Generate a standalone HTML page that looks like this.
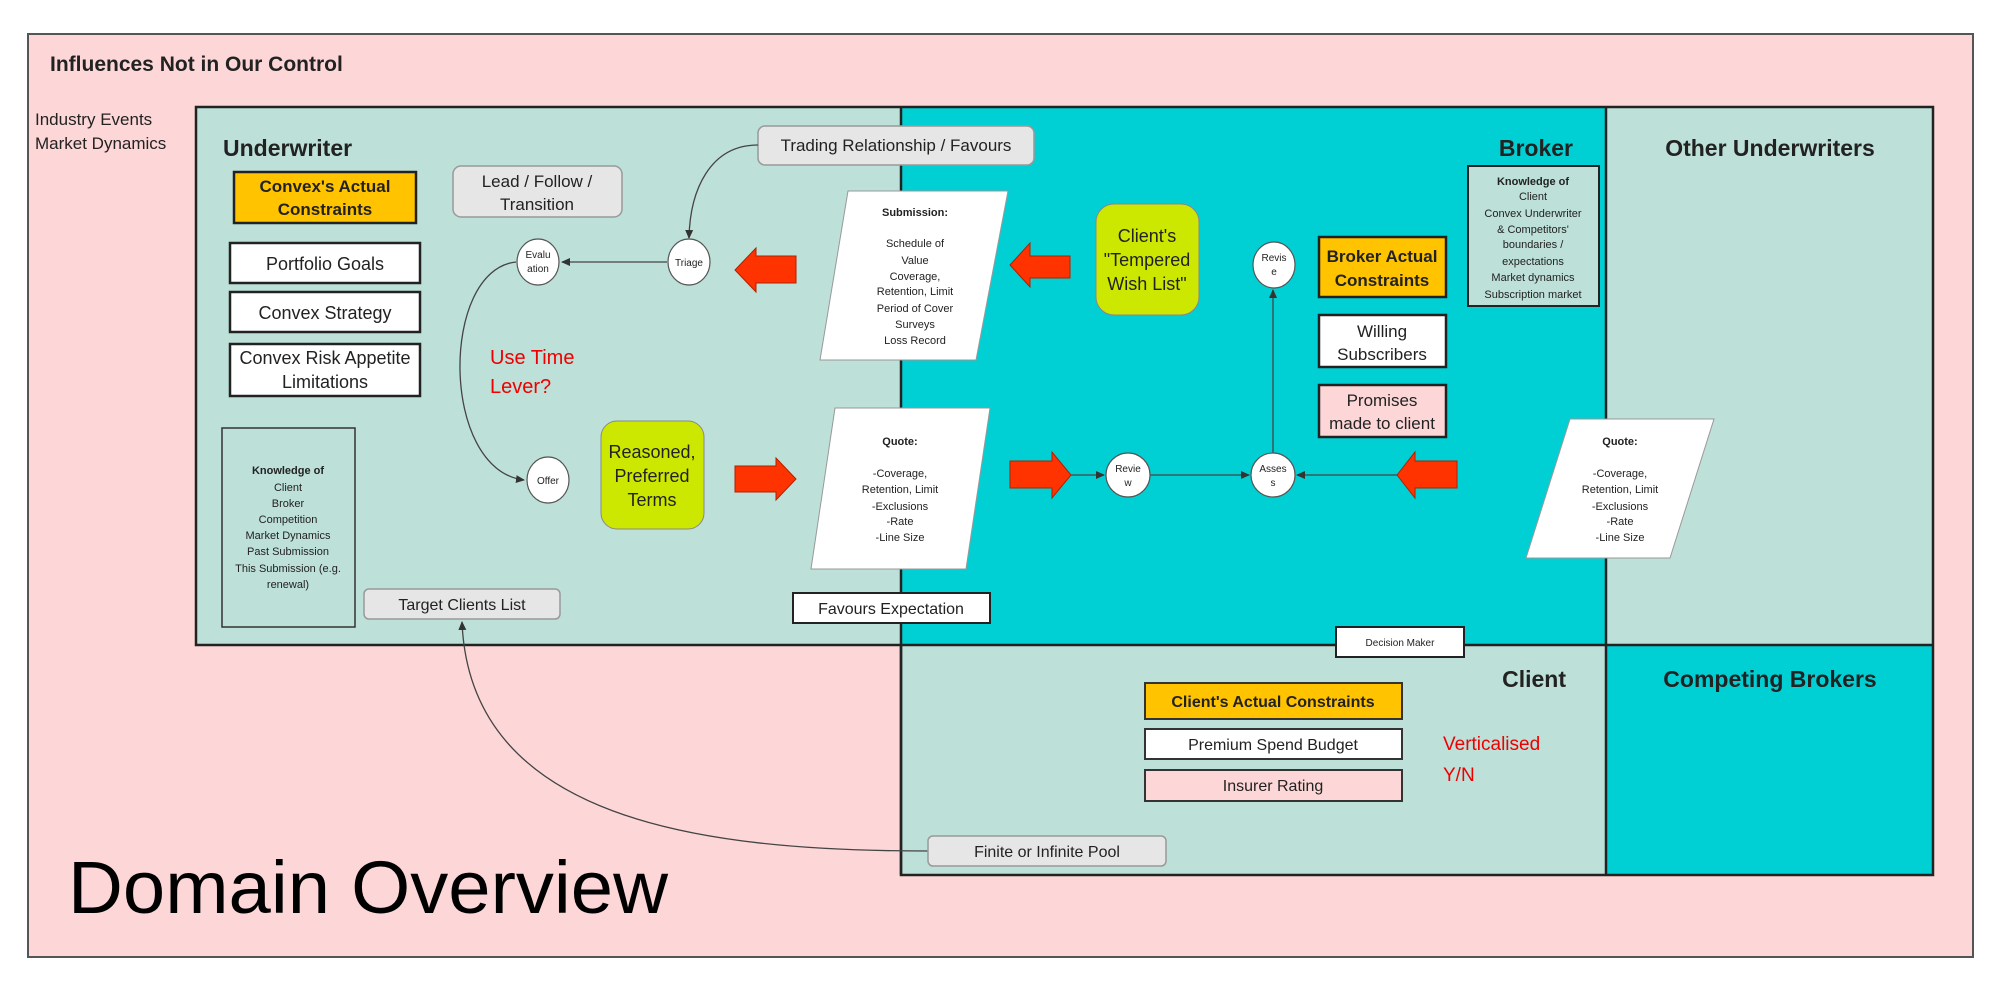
<!DOCTYPE html>
<html><head><meta charset="utf-8"><style>
html,body{margin:0;padding:0;background:#fff}
svg{display:block}
text{font-family:"Liberation Sans",sans-serif;fill:#222}
</style></head><body>
<svg width="2000" height="991" viewBox="0 0 2000 991" xmlns="http://www.w3.org/2000/svg">
<defs>
<marker id="ah" markerWidth="10" markerHeight="10" refX="8" refY="5" orient="auto" markerUnits="userSpaceOnUse"><path d="M0,1 L9,5 L0,9 z" fill="#333"/></marker>
</defs>
<!-- outer -->
<rect x="28" y="34" width="1945" height="923" fill="#fdd7d8" stroke="#555" stroke-width="2"/>
<text x="50" y="71" font-size="21" font-weight="bold">Influences Not in Our Control</text>
<text x="35" y="125" font-size="17">Industry Events</text>
<text x="35" y="149" font-size="17">Market Dynamics</text>

<!-- regions -->
<rect x="196" y="107" width="705" height="538" fill="#bde0d8"/>
<rect x="901" y="107" width="705" height="538" fill="#00d0d4"/>
<rect x="1606" y="107" width="327" height="538" fill="#bde0d8"/>
<rect x="901" y="645" width="705" height="230" fill="#bde0d8"/>
<rect x="1606" y="645" width="327" height="230" fill="#00d0d4"/>
<g stroke="#222" stroke-width="2.5" fill="none">
<path d="M196,107 H1933 V875 H901 V645 H196 Z"/>
<line x1="901" y1="107" x2="901" y2="875"/>
<line x1="1606" y1="107" x2="1606" y2="875"/>
<line x1="901" y1="645" x2="1933" y2="645"/>
</g>

<text x="223" y="156" font-size="23" font-weight="bold">Underwriter</text>
<text x="1573" y="156" font-size="23" font-weight="bold" text-anchor="end">Broker</text>
<text x="1770" y="156" font-size="23" font-weight="bold" text-anchor="middle">Other Underwriters</text>
<text x="1566" y="687" font-size="23" font-weight="bold" text-anchor="end">Client</text>
<text x="1770" y="687" font-size="23" font-weight="bold" text-anchor="middle">Competing Brokers</text>

<!-- underwriter boxes -->
<g stroke="#222" stroke-width="2.5">
<rect x="234" y="172" width="182" height="51" fill="#ffc300"/>
<rect x="230" y="243" width="190" height="40" fill="#fff"/>
<rect x="230" y="292" width="190" height="40" fill="#fff"/>
<rect x="230" y="344" width="190" height="52" fill="#fff"/>
</g>
<g font-size="18" text-anchor="middle">
<text x="325" y="192" font-weight="bold" font-size="17">Convex's Actual</text>
<text x="325" y="215" font-weight="bold" font-size="17">Constraints</text>
<text x="325" y="270">Portfolio Goals</text>
<text x="325" y="319">Convex Strategy</text>
<text x="325" y="364">Convex Risk Appetite</text>
<text x="325" y="388">Limitations</text>
</g>

<rect x="453" y="166" width="169" height="51" rx="8" fill="#e6e6e6" stroke="#999" stroke-width="1.5"/>
<text x="537" y="187" font-size="17" text-anchor="middle">Lead / Follow /</text>
<text x="537" y="210" font-size="17" text-anchor="middle">Transition</text>

<rect x="758" y="126" width="276" height="39" rx="7" fill="#e6e6e6" stroke="#999" stroke-width="1.5"/>
<text x="896" y="151" font-size="17" text-anchor="middle">Trading Relationship / Favours</text>

<!-- connectors -->
<g stroke="#444" stroke-width="1.3" fill="none">
<path d="M758,145 C710,145 690,190 689,238" marker-end="url(#ah)"/>
<line x1="667" y1="262" x2="562" y2="262" marker-end="url(#ah)"/>
<path d="M516,262 C440,270 440,470 524,480" marker-end="url(#ah)"/>
<path d="M928,851 C700,851 470,820 462,622" marker-end="url(#ah)"/>
<line x1="1071" y1="475" x2="1104" y2="475" marker-end="url(#ah)"/>
<line x1="1150" y1="475" x2="1249" y2="475" marker-end="url(#ah)"/>
<line x1="1397" y1="475" x2="1297" y2="475" marker-end="url(#ah)"/>
<line x1="1273" y1="453" x2="1273" y2="290" marker-end="url(#ah)"/>
</g>

<!-- circles -->
<g fill="#fff" stroke="#555" stroke-width="1.2">
<ellipse cx="538" cy="262" rx="21" ry="23"/>
<ellipse cx="689" cy="262" rx="21" ry="23"/>
<ellipse cx="548" cy="480" rx="21" ry="23"/>
<ellipse cx="1128" cy="475" rx="22" ry="22"/>
<ellipse cx="1273" cy="475" rx="22" ry="22"/>
<ellipse cx="1274" cy="265" rx="21" ry="23"/>
</g>
<g font-size="10" text-anchor="middle">
<text x="538" y="258">Evalu</text><text x="538" y="272">ation</text>
<text x="689" y="266">Triage</text>
<text x="548" y="484">Offer</text>
<text x="1128" y="472">Revie</text><text x="1128" y="486">w</text>
<text x="1273" y="472">Asses</text><text x="1273" y="486">s</text>
<text x="1274" y="261">Revis</text><text x="1274" y="275">e</text>
</g>

<!-- red arrows -->
<g fill="#ff3300" stroke="#b02000" stroke-width="1">
<path d="M796,256 H756 V248 L735,270 L756,292 V283 H796 Z"/>
<path d="M1070,256 H1030 V243 L1010,265 L1030,287 V278 H1070 Z"/>
<path d="M735,466 H776 V458 L796,479 L776,500 V492 H735 Z"/>
<path d="M1010,461 H1052 V452 L1071,475 L1052,498 V488 H1010 Z"/>
<path d="M1457,461 H1415 V452 L1397,475 L1415,498 V488 H1457 Z"/>
</g>

<text x="490" y="364" font-size="20" fill="#e00" style="fill:#e00">Use Time</text>
<text x="490" y="393" font-size="20" style="fill:#e00">Lever?</text>

<!-- lime boxes -->
<rect x="601" y="421" width="103" height="108" rx="16" fill="#cde800" stroke="#888" stroke-width="1"/>
<g font-size="18" text-anchor="middle">
<text x="652" y="458">Reasoned,</text>
<text x="652" y="482">Preferred</text>
<text x="652" y="506">Terms</text>
</g>
<rect x="1096" y="204" width="103" height="111" rx="18" fill="#cde800" stroke="#888" stroke-width="1"/>
<g font-size="18" text-anchor="middle">
<text x="1147" y="242">Client's</text>
<text x="1147" y="266">"Tempered</text>
<text x="1147" y="290">Wish List"</text>
</g>

<!-- parallelograms -->
<g fill="#fff" stroke="#999" stroke-width="1">
<path d="M848,191 H1008 L976,360 H820 Z"/>
<path d="M835,408 H990 L966,569 H811 Z"/>
<path d="M1570,419 H1714 L1670,558 H1526 Z"/>
</g>
<g font-size="11" text-anchor="middle">
<text x="915" y="216" font-weight="bold">Submission:</text>
<text x="915" y="247">Schedule of</text>
<text x="915" y="264">Value</text>
<text x="915" y="280">Coverage,</text>
<text x="915" y="295">Retention, Limit</text>
<text x="915" y="312">Period of Cover</text>
<text x="915" y="328">Surveys</text>
<text x="915" y="344">Loss Record</text>
<text x="900" y="445" font-weight="bold">Quote:</text>
<text x="900" y="477">-Coverage,</text>
<text x="900" y="493">Retention, Limit</text>
<text x="900" y="510">-Exclusions</text>
<text x="900" y="525">-Rate</text>
<text x="900" y="541">-Line Size</text>
<text x="1620" y="445" font-weight="bold">Quote:</text>
<text x="1620" y="477">-Coverage,</text>
<text x="1620" y="493">Retention, Limit</text>
<text x="1620" y="510">-Exclusions</text>
<text x="1620" y="525">-Rate</text>
<text x="1620" y="541">-Line Size</text>
</g>

<!-- knowledge boxes -->
<rect x="222" y="428" width="133" height="199" fill="#bde0d8" stroke="#333" stroke-width="1.5"/>
<g font-size="11" text-anchor="middle">
<text x="288" y="474" font-weight="bold">Knowledge of</text>
<text x="288" y="491">Client</text>
<text x="288" y="507">Broker</text>
<text x="288" y="523">Competition</text>
<text x="288" y="539">Market Dynamics</text>
<text x="288" y="555">Past Submission</text>
<text x="288" y="572">This Submission (e.g.</text>
<text x="288" y="588">renewal)</text>
</g>
<rect x="1468" y="166" width="131" height="140" fill="#bde0d8" stroke="#222" stroke-width="2"/>
<g font-size="11" text-anchor="middle">
<text x="1533" y="185" font-weight="bold">Knowledge of</text>
<text x="1533" y="200">Client</text>
<text x="1533" y="217">Convex Underwriter</text>
<text x="1533" y="233">&amp; Competitors'</text>
<text x="1533" y="248">boundaries /</text>
<text x="1533" y="265">expectations</text>
<text x="1533" y="281">Market dynamics</text>
<text x="1533" y="298">Subscription market</text>
</g>

<!-- broker boxes -->
<g stroke="#222" stroke-width="2.5">
<rect x="1319" y="237" width="127" height="60" fill="#ffc300"/>
<rect x="1319" y="315" width="127" height="52" fill="#fff"/>
<rect x="1319" y="385" width="127" height="52" fill="#fdd7d8"/>
</g>
<g font-size="17" text-anchor="middle">
<text x="1382" y="262" font-weight="bold">Broker Actual</text>
<text x="1382" y="286" font-weight="bold">Constraints</text>
<text x="1382" y="337">Willing</text>
<text x="1382" y="360">Subscribers</text>
<text x="1382" y="406">Promises</text>
<text x="1382" y="429">made to client</text>
</g>

<!-- misc boxes -->
<rect x="364" y="589" width="196" height="30" rx="5" fill="#e6e6e6" stroke="#999" stroke-width="1.5"/>
<text x="462" y="610" font-size="16" text-anchor="middle">Target Clients List</text>
<rect x="793" y="593" width="197" height="30" fill="#fff" stroke="#222" stroke-width="2"/>
<text x="891" y="614" font-size="16" text-anchor="middle">Favours Expectation</text>
<rect x="1336" y="627" width="128" height="30" fill="#fff" stroke="#222" stroke-width="2"/>
<text x="1400" y="646" font-size="10" text-anchor="middle">Decision Maker</text>
<rect x="928" y="836" width="238" height="30" rx="5" fill="#e6e6e6" stroke="#999" stroke-width="1.5"/>
<text x="1047" y="857" font-size="16" text-anchor="middle">Finite or Infinite Pool</text>

<!-- client boxes -->
<g stroke="#333" stroke-width="2">
<rect x="1145" y="683" width="257" height="36" fill="#ffc300"/>
<rect x="1145" y="729" width="257" height="30" fill="#fff"/>
<rect x="1145" y="770" width="257" height="31" fill="#fdd7d8"/>
</g>
<g font-size="16" text-anchor="middle">
<text x="1273" y="707" font-weight="bold">Client's Actual Constraints</text>
<text x="1273" y="750">Premium Spend Budget</text>
<text x="1273" y="791">Insurer Rating</text>
</g>
<text x="1443" y="750" font-size="19" style="fill:#e00">Verticalised</text>
<text x="1443" y="781" font-size="19" style="fill:#e00">Y/N</text>

<text x="68" y="913" font-size="74" style="fill:#000" textLength="600" lengthAdjust="spacingAndGlyphs">Domain Overview</text>
</svg>
</body></html>
